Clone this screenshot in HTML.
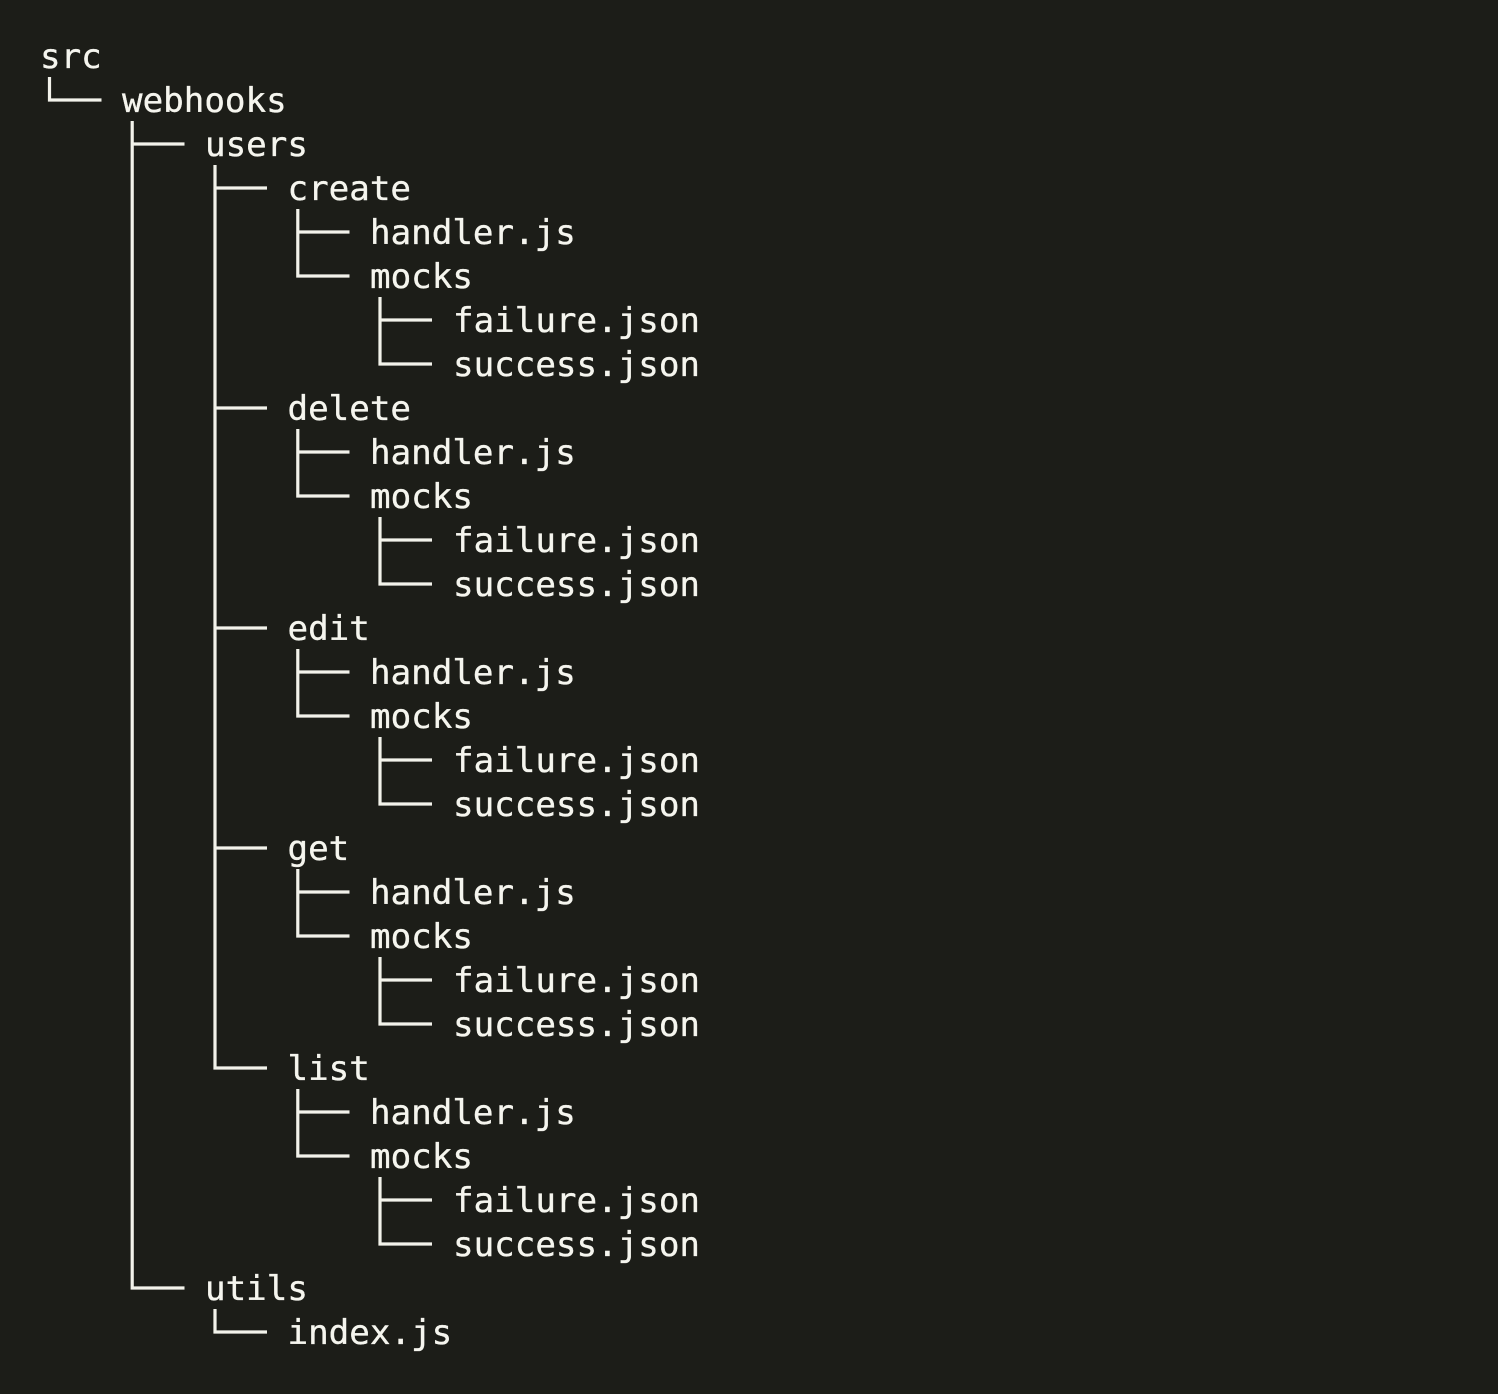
<!DOCTYPE html>
<html><head><meta charset="utf-8"><style>
html,body{margin:0;padding:0;background:#1c1d18;width:1498px;height:1394px;overflow:hidden}
svg{display:block}
text{font-family:"DejaVu Sans Mono","Liberation Mono",monospace;font-size:34.2px;fill:#f5f5ee;stroke:#f5f5ee;stroke-width:.35px}
</style></head><body>
<svg width="1498" height="1394" viewBox="0 0 1498 1394" xmlns="http://www.w3.org/2000/svg">
<rect width="1498" height="1394" fill="#1c1d18"/>
<g fill="none" stroke="#f2f2ea" stroke-width="3.2">
<path d="M49.5 77V100H101.5"/>
<path d="M132.2 121V1288H184.5M132.2 144H184.5"/>
<path d="M215 165V1068H267M215 188H267M215 408H267M215 628H267M215 848H267"/>
<path d="M215 1309V1332H267"/>
<g><path d="M297.8 209V276H349.5M297.8 232H349.5"/><path d="M380 297V364H432M380 320H432"/></g>
<g transform="translate(0,220)"><path d="M297.8 209V276H349.5M297.8 232H349.5"/><path d="M380 297V364H432M380 320H432"/></g>
<g transform="translate(0,440)"><path d="M297.8 209V276H349.5M297.8 232H349.5"/><path d="M380 297V364H432M380 320H432"/></g>
<g transform="translate(0,660)"><path d="M297.8 209V276H349.5M297.8 232H349.5"/><path d="M380 297V364H432M380 320H432"/></g>
<g transform="translate(0,880)"><path d="M297.8 209V276H349.5M297.8 232H349.5"/><path d="M380 297V364H432M380 320H432"/></g>
</g>
<text x="40" y="68">src</text>
<text x="122" y="112">webhooks</text>
<text x="205" y="156">users</text>
<text x="287.5" y="200">create</text>
<text x="370" y="244">handler.js</text>
<text x="370" y="288">mocks</text>
<text x="453" y="332">failure.json</text>
<text x="453" y="376">success.json</text>
<text x="287.5" y="420">delete</text>
<text x="370" y="464">handler.js</text>
<text x="370" y="508">mocks</text>
<text x="453" y="552">failure.json</text>
<text x="453" y="596">success.json</text>
<text x="287.5" y="640">edit</text>
<text x="370" y="684">handler.js</text>
<text x="370" y="728">mocks</text>
<text x="453" y="772">failure.json</text>
<text x="453" y="816">success.json</text>
<text x="287.5" y="860">get</text>
<text x="370" y="904">handler.js</text>
<text x="370" y="948">mocks</text>
<text x="453" y="992">failure.json</text>
<text x="453" y="1036">success.json</text>
<text x="287.5" y="1080">list</text>
<text x="370" y="1124">handler.js</text>
<text x="370" y="1168">mocks</text>
<text x="453" y="1212">failure.json</text>
<text x="453" y="1256">success.json</text>
<text x="205" y="1300">utils</text>
<text x="287.5" y="1344">index.js</text>
</svg>
</body></html>
